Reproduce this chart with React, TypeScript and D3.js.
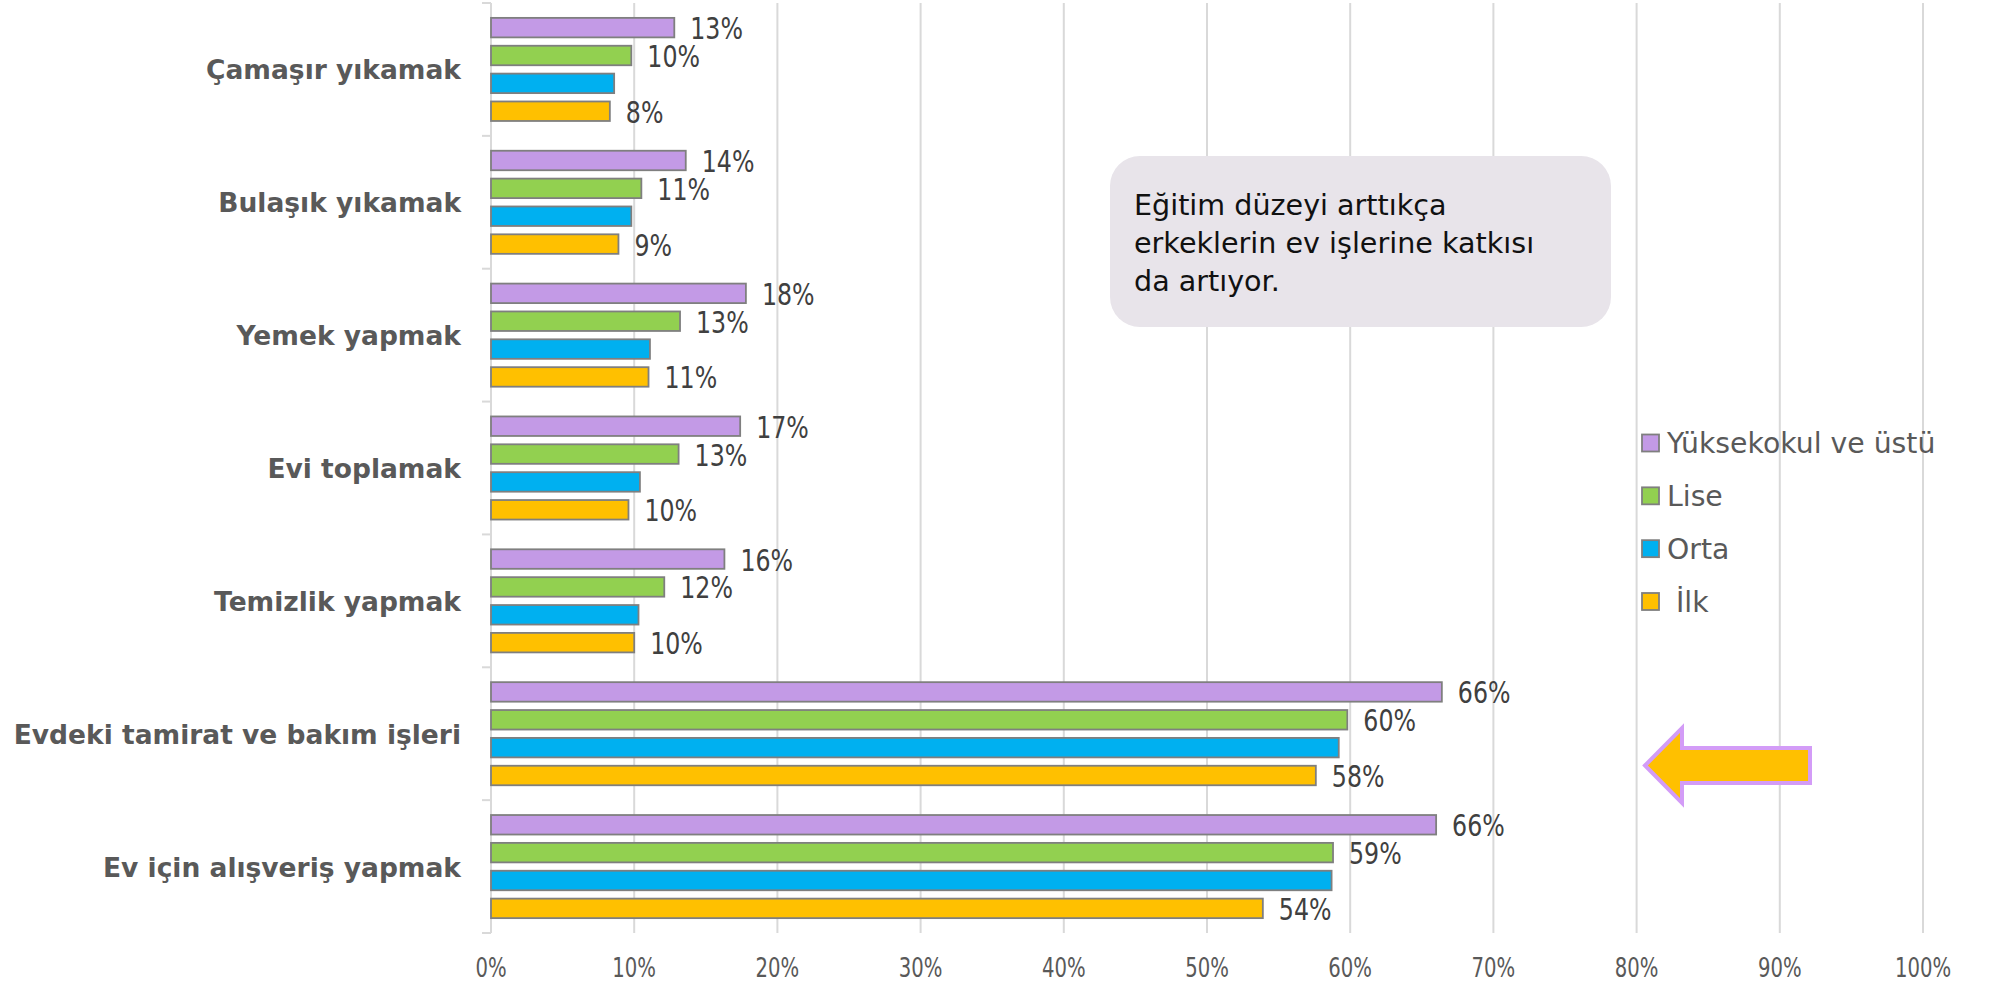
import * as d3 from "d3";

const categories = [
  "Çamaşır yıkamak",
  "Bulaşık yıkamak",
  "Yemek yapmak",
  "Evi toplamak",
  "Temizlik yapmak",
  "Evdeki tamirat ve bakım işleri",
  "Ev için alışveriş yapmak",
];
const seriesNames = ["Yüksekokul ve üstü", "Lise", "Orta", " İlk"];
const yuksekokul = [0.128, 0.136, 0.178, 0.174, 0.163, 0.664, 0.66];
const lise = [0.098, 0.105, 0.132, 0.131, 0.121, 0.598, 0.588];
const orta = [0.086, 0.098, 0.111, 0.104, 0.103, 0.592, 0.587];
const ilk = [0.083, 0.089, 0.11, 0.096, 0.1, 0.576, 0.539];
const xTicks = [0, 0.1, 0.2, 0.3, 0.4, 0.5, 0.6, 0.7, 0.8, 0.9, 1];
const noteLines = ["Eğitim düzeyi arttıkça", "erkeklerin ev işlerine katkısı", "da artıyor."];

const colors = ["#c39ae6", "#92d050", "#00b0f0", "#ffc000"];
const showLabel = [true, true, false, true];
const seriesValues = [yuksekokul, lise, orta, ilk];

const W = 1991;
const H = 984;
const margin = { left: 491, right: 68, top: 3, bottom: 51 };
const narrow = "'DejaVu Sans Condensed', 'DejaVu Sans', sans-serif";
const sans = "'DejaVu Sans', Verdana, sans-serif";

// squeezed text for the condensed labels
function Narrow(props: { x: number; y: number; sx: number; size: number; fill: string; anchor?: string; children: any }) {
  return (
    <text
      transform={`translate(${props.x},${props.y}) scale(${props.sx},1)`}
      textAnchor={props.anchor || "start"}
      fontFamily={narrow}
      fontSize={props.size}
      fill={props.fill}
    >
      {props.children}
    </text>
  );
}

export default function App() {
  const x = d3.scaleLinear().domain([0, 1]).range([margin.left, W - margin.right]);
  const y0 = d3.scaleBand().domain(categories).range([margin.top, H - margin.bottom]);
  const groupH = y0.bandwidth() * 0.776;
  const y1 = d3
    .scaleBand()
    .domain(seriesNames)
    .range([0, groupH])
    .paddingInner(0.3);
  const groupOff = (y0.bandwidth() - groupH) / 2;
  const pct = d3.format(".0%");

  // legend layout
  const legendY = d3.scalePoint().domain(seriesNames).range([443, 601.5]);

  // arrow shape
  const arrow = { tip: 1645, neck: 1682, end: 1810, cy: 765.5, head: 37.5, shaft: 17.5 };
  const arrowPts = [
    [arrow.tip, arrow.cy],
    [arrow.neck, arrow.cy - arrow.head],
    [arrow.neck, arrow.cy - arrow.shaft],
    [arrow.end, arrow.cy - arrow.shaft],
    [arrow.end, arrow.cy + arrow.shaft],
    [arrow.neck, arrow.cy + arrow.shaft],
    [arrow.neck, arrow.cy + arrow.head],
  ];

  return (
    <svg
      width={W}
      height={H}
      style={{ position: "absolute", left: 0, top: 0, background: "#fff" }}
    >
      {/* gridlines */}
      {xTicks.slice(1).map((t) => (
        <line
          key={"g" + t}
          x1={x(t)}
          x2={x(t)}
          y1={margin.top}
          y2={H - margin.bottom}
          stroke="#d9d9d9"
          strokeWidth={2}
        />
      ))}
      {/* category axis */}
      <line
        x1={x(0)}
        x2={x(0)}
        y1={margin.top}
        y2={H - margin.bottom}
        stroke="#d9d9d9"
        strokeWidth={2}
      />
      {[...categories.map((c) => y0(c)!), H - margin.bottom].map((v, i) => (
        <line key={"t" + i} x1={x(0) - 9} x2={x(0)} y1={v} y2={v} stroke="#d9d9d9" strokeWidth={2} />
      ))}
      {/* x tick labels */}
      {xTicks.map((t) => (
        <Narrow key={"xl" + t} x={x(t)} y={977} sx={0.84} size={26} fill="#595959" anchor="middle">
          {pct(t)}
        </Narrow>
      ))}
      {/* category labels */}
      {categories.map((c) => (
        <text
          key={"c" + c}
          x={461}
          y={y0(c)! + y0.bandwidth() / 2 + 10}
          textAnchor="end"
          fontFamily={sans}
          fontWeight="bold"
          fontSize={26.5}
          fill="#595959"
        >
          {c}
        </text>
      ))}
      {/* bars */}
      {categories.map((c, ci) => (
        <g key={"b" + c} transform={`translate(0,${y0(c)! + groupOff})`}>
          {seriesNames.map((s, si) => {
            const v = seriesValues[si][ci];
            const yy = y1(s)!;
            return (
              <g key={s}>
                <rect
                  x={x(0)}
                  y={yy}
                  width={x(v) - x(0)}
                  height={y1.bandwidth()}
                  fill={colors[si]}
                  stroke="#7f7f7f"
                  strokeWidth={1.8}
                />
                {showLabel[si] && (
                  <Narrow x={x(v) + 16} y={yy + y1.bandwidth() / 2 + 11.5} sx={0.85} size={31} fill="#404040">
                    {pct(v)}
                  </Narrow>
                )}
              </g>
            );
          })}
        </g>
      ))}
      {/* note box */}
      <rect x={1110} y={156} width={501} height={171} rx={30} fill="#e8e4ea" />
      {noteLines.map((l, i) => (
        <text
          key={"n" + i}
          x={1134}
          y={215 + i * 38}
          fontFamily={sans}
          fontSize={28.6}
          fill="#111"
        >
          {l}
        </text>
      ))}
      {/* legend */}
      {seriesNames.map((s, si) => (
        <g key={"l" + s} transform={`translate(1642,${legendY(s)})`}>
          <rect x={0} y={-8.5} width={17} height={17} fill={colors[si]} stroke="#7f7f7f" strokeWidth={1.8} />
          <text
            x={25}
            y={10}
            fontFamily={sans}
            fontSize={28.3}
            fill="#595959"
            style={{ whiteSpace: "pre" }}
          >
            {s}
          </text>
        </g>
      ))}
      {/* arrow */}
      <polygon
        points={arrowPts.map((p) => p.join(",")).join(" ")}
        fill="#ffc000"
        stroke="#d39cf7"
        strokeWidth={4}
      />
    </svg>
  );
}
